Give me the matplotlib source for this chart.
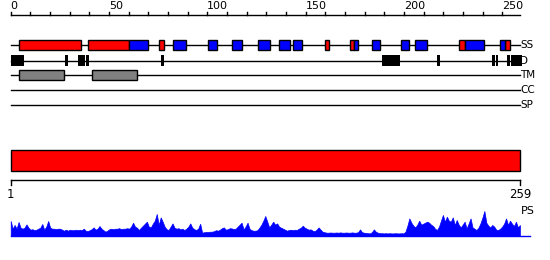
import numpy as np
import matplotlib.pyplot as plt
from matplotlib.patches import Rectangle

# sequence length and ruler
seq_len = 259
ruler_ticks = list(range(0, 251, 10))
ruler_labels = [0, 50, 100, 150, 200, 250]

# secondary structure (SS): helices red, strands blue
helix = [(4.4, 35.6), (39.5, 60), (75.6, 77.8), (160, 161.7), (172.7, 174.8),
         (227.9, 230.9), (251.2, 254.1)]
strand = [(60, 69.7), (82.7, 89), (100.5, 104.8), (112.7, 117.8), (126, 131.7),
          (136.5, 141.9), (143.7, 148), (174.8, 176.8), (183.9, 188), (198.7, 202.8),
          (205.8, 211.9), (230.9, 240.9), (249, 251.2)]
# disorder (D)
disorder = [(0, 6.6), (27.8, 29.1), (34.2, 37.6), (38.1, 39.7), (76.4, 77.8),
            (188.8, 197.9), (216.8, 218.2), (244.8, 246.2), (246.7, 248),
            (252.5, 253.9), (254.6, 259.9)]
# transmembrane (TM)
tm = [(4.4, 27), (41.5, 64.1)]
track_names = ['SS', 'D', 'TM', 'CC', 'SP']

# PS profile, one value per residue
ps = [14.7, 7, 10.7, 7, 13.7, 8, 7, 8, 11.3, 8,
      6, 6.5, 5.5, 6, 7, 8, 11.7, 6, 9, 14.7,
      8, 7, 7, 6.5, 7, 7, 6, 5, 6, 5,
      6, 5.5, 5.5, 6, 5.5, 6, 5.5, 7, 5, 4.5,
      5.5, 6.5, 8.3, 6, 7, 9.7, 7, 5.5, 4, 5,
      6.5, 7, 6.5, 7, 7, 7.5, 6.5, 7, 7, 7.5,
      7, 9, 13, 9, 8, 5.7, 8, 10, 12, 14,
      9, 8.3, 12, 15, 21.7, 10.7, 18.3, 14, 9, 6.5,
      5.7, 9, 12.3, 8, 7, 7.5, 6.3, 7, 5.7, 7,
      9, 12.3, 8, 6.5, 5.7, 7, 12, 3, 3.5, 3.7,
      3.7, 4, 4, 4.5, 5.5, 5, 6, 7.5, 8.3, 6,
      6.5, 7.5, 7.3, 6.5, 7, 9, 11, 13, 6.3, 9,
      13, 7, 5.5, 5, 5, 5.5, 8, 11, 15, 19.7,
      14, 8.3, 11, 14, 11, 12.3, 9, 8, 7, 6,
      5, 5.7, 6, 5.5, 6, 5.7, 7, 8, 10, 8,
      7, 6, 6.3, 5, 4.5, 6, 8.3, 6, 4, 3.5,
      3, 3, 3.2, 3, 3, 3.2, 3, 3.3, 3, 3,
      3.2, 3, 3, 3.3, 3, 3, 3.5, 6.3, 3.5, 3,
      2.8, 2.5, 2.3, 3.5, 6.3, 4, 3, 2.5, 2.5, 2.3,
      2.5, 2.3, 2.5, 2.3, 2.3, 2.5, 2.3, 2.3, 2.5, 2.3,
      4, 10, 17.3, 13, 10, 8.3, 11, 15, 11, 12,
      13, 14, 13, 11, 9.7, 7, 5.7, 9, 15, 20.7,
      14, 19, 15, 14, 18.3, 10.7, 15.7, 11, 8.3, 11,
      14, 7.3, 12, 17.3, 8.3, 7, 5.7, 8, 12.3, 18,
      24.7, 13, 10, 8.3, 10.7, 9, 6, 5.7, 7, 9,
      12, 17.3, 10.7, 15, 12, 9.7, 14, 8.3, 10.7]

fig = plt.figure(figsize=(5.5, 2.6), dpi=100)
ax = fig.add_axes([0, 0, 1, 1])
scale = 1.966
ax.set_xlim(-10.7 / scale, (550 - 10.7) / scale)
ax.set_ylim(260, 0)
ax.axis('off')


def boxes(spans, y, h, color, edge='black'):
    for a, b in spans:
        ax.add_patch(Rectangle((a, y - h / 2), b - a, h, facecolor=color,
                               edgecolor=edge, linewidth=1, zorder=3))


# ruler on top
ax.plot([0, seq_len], [15, 15], color='black', lw=1)
for t in ruler_ticks:
    ax.plot([t, t], [12, 15], color='black', lw=1)
for t in ruler_labels:
    ax.text(t, 11, str(t), ha='left', va='bottom', fontsize=8)

# feature tracks
track_y = [45, 60.5, 75, 90, 105]
for name, y in zip(track_names, track_y):
    ax.plot([0, seq_len], [y, y], color='black', lw=1, zorder=1)
    ax.text(seq_len + 0.3, y, name, ha='left', va='center', fontsize=7.5)

boxes(helix, 45, 10, 'red')
boxes(strand, 45, 10, 'blue')
boxes(disorder, 60.5, 11, 'black', edge='none')
boxes(tm, 75, 10, 'gray')

# full-length bar
ax.add_patch(Rectangle((0, 150), seq_len, 20.7, facecolor='red',
                       edgecolor='black', linewidth=1))

# bottom ruler
ax.plot([0, seq_len], [180.3, 180.3], color='black', lw=1)
for t in [0, seq_len]:
    ax.plot([t, t], [180.3, 185], color='black', lw=1)
ax.text(0, 195, '1', ha='center', va='center', fontsize=8.5)
ax.text(seq_len, 195, str(seq_len), ha='center', va='center', fontsize=8.5)

# PS profile
base = 235.7
x = np.arange(len(ps)) * seq_len / (len(ps) - 1)
ax.fill_between(x, base, base - np.array(ps), color='blue', lw=0.5, edgecolor='blue')
ax.plot([0, 264], [base, base], color='blue', lw=1)
ax.text(seq_len + 0.5, 211, 'PS', ha='left', va='center', fontsize=8)

plt.savefig('out.png', dpi=100)
